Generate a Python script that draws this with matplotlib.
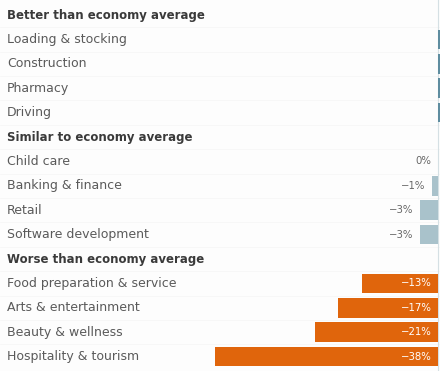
import numpy as np
import matplotlib.pyplot as plt

# job groups, relative to the economy-wide average (%)
better = ["Loading & stocking", "Construction", "Pharmacy", "Driving"]
better_vals = [9, 7, 6, 5]
similar = ["Child care", "Banking & finance", "Retail", "Software development"]
similar_vals = [0, -1, -3, -3]
worse = ["Food preparation & service", "Arts & entertainment",
         "Beauty & wellness", "Hospitality & tourism"]
worse_vals = [-13, -17, -21, -38]

headers = ["Better than economy average", "Similar to economy average",
           "Worse than economy average"]

groups = [(better, better_vals, "#5f8da0"),
          (similar, similar_vals, "#a9c2cb"),
          (worse, worse_vals, "#e0650c")]

plt.rcParams['font.family'] = ['DejaVu Sans']

fig = plt.figure(figsize=(4.4, 3.71), dpi=100)
ax = fig.add_axes([0, 0, 1, 1])
ax.set_facecolor("#fdfdfd")
fig.patch.set_facecolor("#fdfdfd")

lab = ax.get_yaxis_transform()
row = 0
for (names, vals, col), head in zip(groups, headers):
    ax.text(0.016, row, head, transform=lab, ha="left", va="center",
            fontsize=8.5, fontweight="bold", color="#3a3a3a")
    row += 1
    for name, v in zip(names, vals):
        ax.text(0.016, row, name, transform=lab, ha="left", va="center",
                fontsize=9, color="#5a5a5a")
        ax.barh(row, v, height=0.8, color=col, linewidth=0)
        txt = f"{v}%".replace("-", "\u2212")
        if v <= -10:
            ax.text(-1.0, row, txt, ha="right", va="center",
                    fontsize=7.3, color="white")
        elif v <= 0:
            ax.text(v - 1.2, row, txt, ha="right", va="center",
                    fontsize=7.3, color="#666666")
        row += 1

# faint rules between rows
for y in np.arange(0.5, row - 1, 1):
    ax.axhline(y, color="#f5f5f5", lw=0.5, zorder=0)
ax.axvline(0, color="#d5e0e4", lw=0.8, zorder=0)

ax.set_xlim(-74.6, 0.34)
ax.set_ylim(14.59, -0.615)
ax.axis("off")

fig.savefig("out.png", dpi=100, facecolor=fig.get_facecolor())
